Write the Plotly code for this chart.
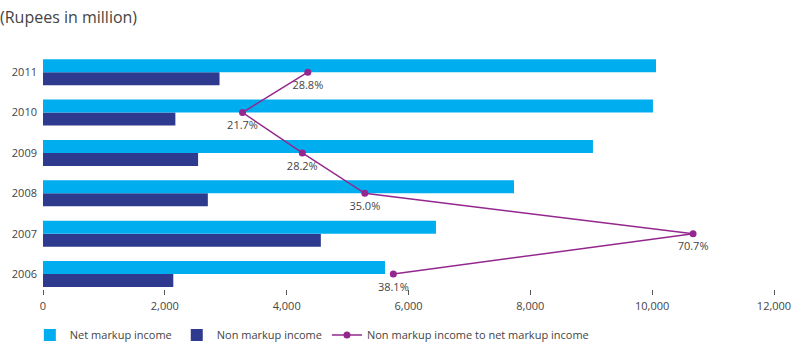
import plotly.graph_objects as go

years = ["2006", "2007", "2008", "2009", "2010", "2011"]
net_markup = [5614, 6451, 7732, 9028, 10013, 10063]
non_markup = [2139, 4561, 2706, 2546, 2173, 2898]
ratio_pct = [38.1, 70.7, 35.0, 28.2, 21.7, 28.8]
ratio_labels = ["38.1%", "70.7%", "35.0%", "28.2%", "21.7%", "28.8%"]
x_ticks = [0, 2000, 4000, 6000, 8000, 10000, 12000]

FONT = "Open Sans"
TEXT = "#444444"
PURPLE = "#93278F"

fig = go.Figure()

# Non markup first so that it sits below the net markup bar in each group
fig.add_trace(go.Bar(
    y=years, x=non_markup, orientation="h", name="Non markup income",
    marker=dict(color="#2E3A8E", line=dict(width=0)), legendrank=2,
))
fig.add_trace(go.Bar(
    y=years, x=net_markup, orientation="h", name="Net markup income",
    marker=dict(color="#00AEEF", line=dict(width=0)), legendrank=1,
))
fig.add_trace(go.Scatter(
    y=years, x=ratio_pct, xaxis="x2", mode="lines+markers",
    name="Non markup income to net markup income",
    line=dict(color=PURPLE, width=1.5),
    marker=dict(color=PURPLE, size=7),
    legendrank=3, cliponaxis=False,
))
# Percentage labels under each ratio point (a wider transparent marker
# gives the text a little more clearance)
fig.add_trace(go.Scatter(
    y=years, x=ratio_pct, xaxis="x2", mode="markers+text",
    marker=dict(color="rgba(0,0,0,0)", size=12),
    text=ratio_labels, textposition="bottom center",
    textfont=dict(family=FONT, size=11, color=TEXT),
    showlegend=False, hoverinfo="skip", cliponaxis=False,
))

fig.update_layout(
    width=793, height=342,
    margin=dict(l=43, r=19, t=52, b=53, autoexpand=False),
    paper_bgcolor="white", plot_bgcolor="white",
    barmode="group", bargap=0.356, bargroupgap=0,
    font=dict(family=FONT, size=11, color=TEXT),
    title=dict(text="(Rupees in million)", x=0.0, xref="container", xanchor="left",
               y=0.95, yref="container", yanchor="middle",
               font=dict(family=FONT, size=16, color=TEXT), pad=dict(l=0)),
    xaxis=dict(
        range=[0, 12000], tickvals=x_ticks,
        ticktext=[f"{v:,}" for v in x_ticks],
        showgrid=False, zeroline=False, showline=False, automargin=False,
        ticks="outside", ticklen=5, tickcolor="#555555", tickwidth=1,
        ticklabelstandoff=2,
        tickfont=dict(family=FONT, size=11, color=TEXT),
    ),
    # percentage scale for the ratio line, kept out of sight
    xaxis2=dict(range=[0, 79.5], overlaying="x", side="top", visible=False),
    yaxis=dict(
        type="category", categoryorder="array", categoryarray=years,
        range=[-0.37, 5.5], showgrid=False, zeroline=False, showline=False,
        ticks="", ticklabelstandoff=5, automargin=False,
        tickfont=dict(family=FONT, size=11, color=TEXT),
    ),
    showlegend=True,
    legend=dict(orientation="h", x=-0.018, xanchor="left", y=-0.194,
                yanchor="middle", font=dict(family=FONT, size=11, color=TEXT),
                itemwidth=30, traceorder="normal", bgcolor="rgba(0,0,0,0)"),
)

fig.write_html("out.html")
